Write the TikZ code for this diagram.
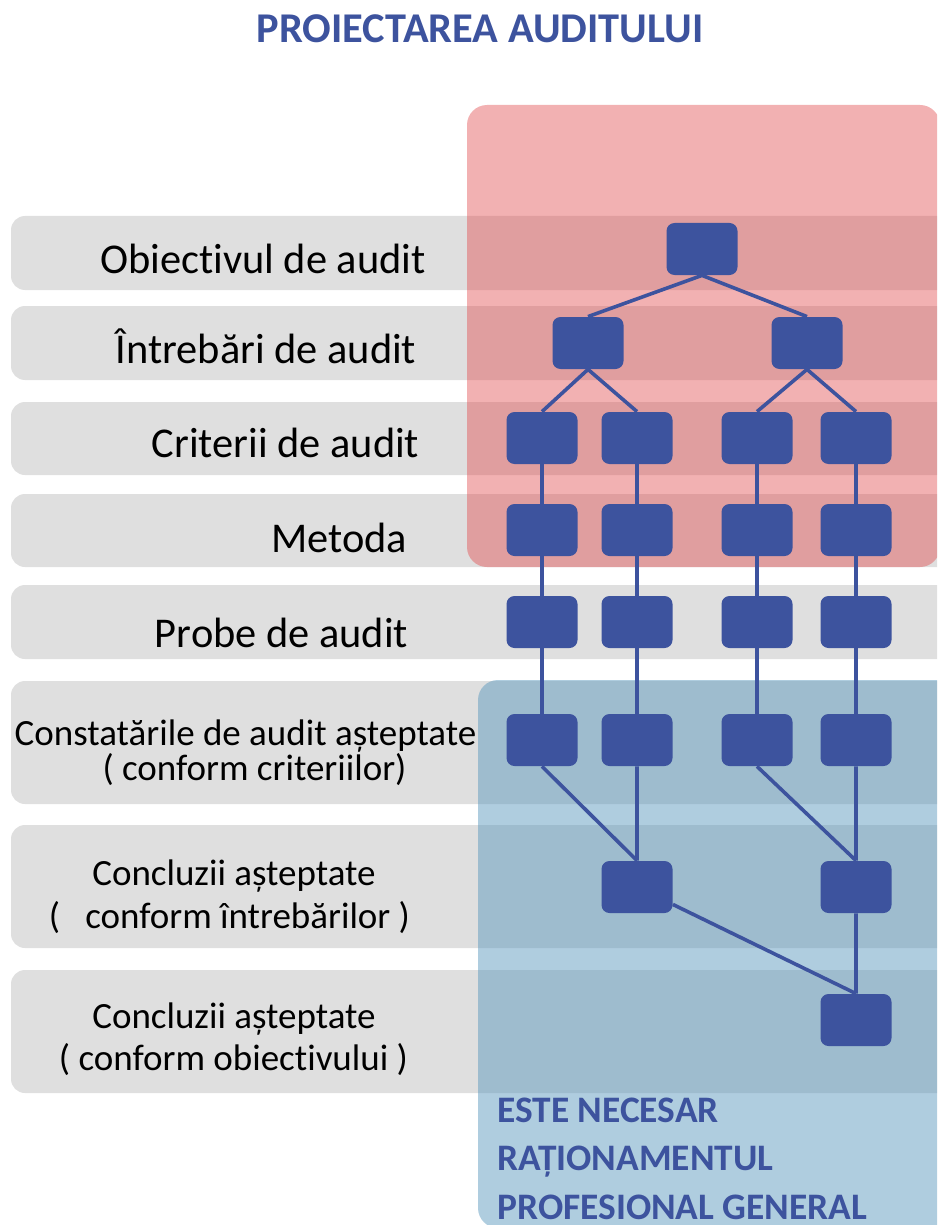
\documentclass[tikz,border=0pt]{standalone}
\usepackage{fontspec}
\setmainfont{Carlito}[Ligatures=NoCommon]
\definecolor{dblue}{RGB}{61,83,158}
\definecolor{lgrey}{RGB}{223,223,223}
\definecolor{rosy}{RGB}{226,77,79}
\definecolor{sky}{RGB}{95,155,191}
\begin{document}
\begin{tikzpicture}[x=0.5pt,y=-0.5pt,
  band/.style={fill=lgrey,rounded corners=7pt},
  box/.style={fill=dblue,rounded corners=4pt,minimum width=35.5pt,minimum height=26pt,inner sep=0pt},
  link/.style={draw=dblue,line width=1.8pt},
  lbl/.style={font=\fontsize{21.2}{25}\selectfont,anchor=base,inner sep=0pt},
  sublbl/.style={font=\fontsize{18.5}{22}\selectfont,anchor=base,inner sep=0pt},
  note/.style={font=\bfseries\fontsize{18.7}{22}\selectfont,text=dblue,anchor=base west,inner sep=0pt}]
  \useasboundingbox (0,0) rectangle (937,1225);
  \clip (0,0) rectangle (937,1225);
  % grey rows
  \foreach \t/\b in {216/290,306/380,402/475,494/567,585/659,681/804,825/948,970/1093}
    \fill[band] (11,\t) rectangle (980,\b);
  % shaded zones
  \fill[rosy,opacity=0.44,rounded corners=10pt] (467,105) rectangle (940,567);
  \fill[sky,opacity=0.5,rounded corners=10pt] (478,680) rectangle (960,1228);
  % title
  \node[font=\bfseries\fontsize{21.2}{25}\selectfont,text=dblue,anchor=base,inner sep=0pt] (title) at (480,43) {PROIECTAREA AUDITULUI};
  % row labels
  \node[lbl] (lobj) at (263,273) {Obiectivul de audit};
  \node[lbl] (lintr) at (266,363) {Întrebări de audit};
  \node[lbl] (lcrit) at (285.5,457) {Criterii de audit};
  \node[lbl] (lmet) at (339,552) {Metoda};
  \node[lbl] (lprob) at (281.5,647) {Probe de audit};
  \node[sublbl] (lcons) at (245.5,745) {Constatările de audit așteptate};
  \node[sublbl] (lcons2) at (254.5,780) {( conform criteriilor)};
  \node[sublbl] (lconq) at (234,885) {Concluzii așteptate};
  \node[sublbl] (lconq2) at (229.5,928) {(\ \ \ conform întrebărilor )};
  \node[sublbl] (lcono) at (234,1028) {Concluzii așteptate};
  \node[sublbl] (lcono2) at (233.5,1070) {( conform obiectivului )};
  % tree
  \node[box] (obj) at (702,249) {};
  \node[box] (q1) at (588,343) {};
  \node[box] (q2) at (807,343) {};
  \foreach \c/\x in {1/542,2/637,3/757,4/856} {
    \node[box] (c\c) at (\x,438) {};
    \node[box] (m\c) at (\x,530) {};
    \node[box] (p\c) at (\x,622) {};
    \node[box] (e\c) at (\x,740) {};
  }
  \node[box] (k1) at (637,887) {};
  \node[box] (k2) at (856,887) {};
  \node[box] (fin) at (856,1020) {};
  \draw[link] (obj.south) -- (q1.north) (obj.south) -- (q2.north);
  \draw[link] (q1.south) -- (c1.north) (q1.south) -- (c2.north);
  \draw[link] (q2.south) -- (c3.north) (q2.south) -- (c4.north);
  \foreach \c in {1,...,4}
    \draw[link] (c\c) -- (m\c) (m\c) -- (p\c) (p\c) -- (e\c);
  \draw[link] (e1.south) -- (k1.north) (e2) -- (k1);
  \draw[link] (e3.south) -- (k2.north) (e4) -- (k2);
  \draw[link] (k1) -- (fin.north) (k2) -- (fin);
  % note
  \node[note] (n1) at (497,1122) {ESTE NECESAR};
  \node[note] (n2) at (497,1170) {RAȚIONAMENTUL};
  \node[note] (n3) at (497,1219) {PROFESIONAL GENERAL};
\end{tikzpicture}
\end{document}
